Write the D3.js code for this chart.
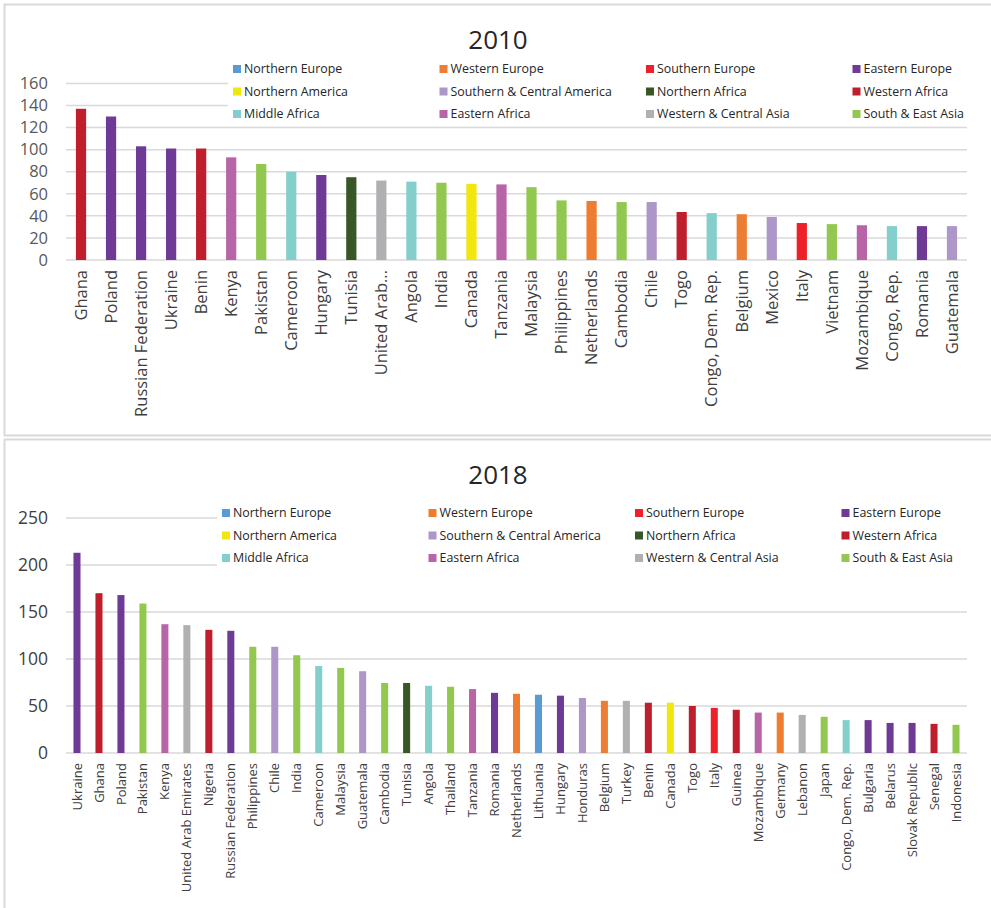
<!DOCTYPE html>
<html>
<head>
<meta charset="utf-8">
<script src="https://d3js.org/d3.v7.min.js"></script>
<style>
  body { margin: 0; background: #fff; }
  text { font-family: "Open Sans", sans-serif; }
</style>
</head>
<body>
<svg id="chart" width="991" height="908"></svg>
<script>
// regions and their colours (legend order)
var regions = ["Northern Europe", "Western Europe", "Southern Europe", "Eastern Europe",
  "Northern America", "Southern & Central America", "Northern Africa", "Western Africa",
  "Middle Africa", "Eastern Africa", "Western & Central Asia", "South & East Asia"];
var regionColors = ["#5b9bd5", "#ed7d31", "#ee2128", "#6f3996",
  "#f2e60f", "#ad96c8", "#375726", "#bf1e2d",
  "#84cfcb", "#b865a8", "#b0b0b3", "#92c850"];

// 2010
var countries2010 = ["Ghana", "Poland", "Russian Federation", "Ukraine", "Benin", "Kenya", "Pakistan",
  "Cameroon", "Hungary", "Tunisia", "United Arab...", "Angola", "India", "Canada", "Tanzania",
  "Malaysia", "Philippines", "Netherlands", "Cambodia", "Chile", "Togo", "Congo, Dem. Rep.",
  "Belgium", "Mexico", "Italy", "Vietnam", "Mozambique", "Congo, Rep.", "Romania", "Guatemala"];
var values2010 = [137, 130, 103, 101, 101, 93, 87, 80, 77, 75, 72, 71, 70, 69, 68.5,
  66, 54, 53.5, 52.5, 52.5, 43.5, 42.5, 41.5, 39, 33.5, 32.5, 31.5, 30.7, 30.7, 30.7];
var regions2010 = ["Western Africa", "Eastern Europe", "Eastern Europe", "Eastern Europe", "Western Africa",
  "Eastern Africa", "South & East Asia", "Middle Africa", "Eastern Europe", "Northern Africa",
  "Western & Central Asia", "Middle Africa", "South & East Asia", "Northern America", "Eastern Africa",
  "South & East Asia", "South & East Asia", "Western Europe", "South & East Asia", "Southern & Central America",
  "Western Africa", "Middle Africa", "Western Europe", "Southern & Central America", "Southern Europe",
  "South & East Asia", "Eastern Africa", "Middle Africa", "Eastern Europe", "Southern & Central America"];
var ticks2010 = [0, 20, 40, 60, 80, 100, 120, 140, 160];

// 2018
var countries2018 = ["Ukraine", "Ghana", "Poland", "Pakistan", "Kenya", "United Arab Emirates", "Nigeria",
  "Russian Federation", "Philippines", "Chile", "India", "Cameroon", "Malaysia", "Guatemala", "Cambodia",
  "Tunisia", "Angola", "Thailand", "Tanzania", "Romania", "Netherlands", "Lithuania", "Hungary",
  "Honduras", "Belgium", "Turkey", "Benin", "Canada", "Togo", "Italy", "Guinea", "Mozambique",
  "Germany", "Lebanon", "Japan", "Congo, Dem. Rep.", "Bulgaria", "Belarus", "Slovak Republic",
  "Senegal", "Indonesia"];
var values2018 = [213, 170, 168, 159, 137, 136, 131, 130, 113, 113, 104, 92.5, 90.5, 87, 74.5,
  74.5, 71.5, 70.5, 68, 64, 63, 62, 61, 58.5, 55.5, 55.5, 53.5, 53.5, 50, 48, 46, 43, 43,
  40.5, 38.5, 35, 35, 32, 32, 31, 30];
var regions2018 = ["Eastern Europe", "Western Africa", "Eastern Europe", "South & East Asia", "Eastern Africa",
  "Western & Central Asia", "Western Africa", "Eastern Europe", "South & East Asia", "Southern & Central America",
  "South & East Asia", "Middle Africa", "South & East Asia", "Southern & Central America", "South & East Asia",
  "Northern Africa", "Middle Africa", "South & East Asia", "Eastern Africa", "Eastern Europe",
  "Western Europe", "Northern Europe", "Eastern Europe", "Southern & Central America", "Western Europe",
  "Western & Central Asia", "Western Africa", "Northern America", "Western Africa", "Southern Europe",
  "Western Africa", "Eastern Africa", "Western Europe", "Western & Central Asia", "South & East Asia",
  "Middle Africa", "Eastern Europe", "Eastern Europe", "Eastern Europe", "Western Africa", "South & East Asia"];
var ticks2018 = [0, 50, 100, 150, 200, 250];

var svg = d3.select("#chart");
var color = d3.scaleOrdinal().domain(regions).range(regionColors);

// panel frames
svg.append("rect").attr("x", 4.5).attr("y", 4.5).attr("width", 990).attr("height", 431)
  .attr("fill", "none").attr("stroke", "#d9d9d9").attr("stroke-width", 2);
svg.append("rect").attr("x", 4.5).attr("y", 439.5).attr("width", 990).attr("height", 475)
  .attr("fill", "none").attr("stroke", "#d9d9d9").attr("stroke-width", 2);

function drawChart(o) {
  var data = o.countries.map(function(c, i) {
    return { name: c, value: o.values[i], region: o.regions[i] };
  });

  var x = d3.scaleBand().domain(o.countries).range([66, 967])
    .paddingInner(o.pad).paddingOuter(o.pad / 2);
  var y = d3.scaleLinear().domain([0, o.max]).range([o.y0, o.yTop]);

  var g = svg.append("g");

  // title
  g.append("text").attr("x", 498).attr("y", o.titleY)
    .attr("text-anchor", "middle").attr("font-size", "26px").attr("fill", "#262626")
    .text(o.title);

  // gridlines
  g.selectAll(".grid").data(o.ticks).enter().append("line")
    .attr("x1", 66).attr("x2", 967)
    .attr("y1", function(d) { return y(d); }).attr("y2", function(d) { return y(d); })
    .attr("stroke", "#d9d9d9").attr("stroke-width", 1.5);

  // y axis labels
  var yAxis = g.append("g").attr("transform", "translate(56,0)")
    .call(d3.axisLeft(y).tickValues(o.ticks).tickSize(0).tickPadding(8));
  yAxis.select(".domain").remove();
  yAxis.selectAll("text").attr("font-family", "Open Sans, sans-serif")
    .attr("font-size", o.tickSize).attr("fill", o.tickColor);

  // legend
  var lg = g.append("g");
  lg.append("rect").attr("x", o.legendX - 5).attr("y", o.legendY - 12)
    .attr("width", 967 - o.legendX + 5).attr("height", 68).attr("fill", "#fff");
  regions.forEach(function(r, i) {
    var lx = o.legendX + (i % 4) * 206.5, ly = o.legendY + Math.floor(i / 4) * 22.5;
    lg.append("rect").attr("x", lx).attr("y", ly - 4).attr("width", 8).attr("height", 8)
      .attr("fill", color(r));
    lg.append("text").attr("x", lx + 11).attr("y", ly).attr("dy", "0.35em")
      .attr("font-size", "12.4px").attr("fill", "#262626").text(r);
  });

  // bars
  g.selectAll(".bar").data(data).enter().append("rect")
    .attr("x", function(d) { return x(d.name); })
    .attr("y", function(d) { return y(d.value); })
    .attr("width", x.bandwidth())
    .attr("height", function(d) { return y(0) - y(d.value); })
    .attr("fill", function(d) { return color(d.region); });

  // x axis labels
  var xAxis = g.append("g").attr("transform", "translate(0," + o.y0 + ")")
    .call(d3.axisBottom(x).tickSize(0).tickPadding(0));
  xAxis.select(".domain").remove();
  xAxis.selectAll("text")
    .attr("font-family", "Open Sans, sans-serif")
    .attr("font-size", o.labelSize).attr("fill", "#404040")
    .attr("transform", "rotate(-90)")
    .attr("text-anchor", "end")
    .attr("x", -o.labelGap).attr("y", 0).attr("dy", "0.35em");
}

drawChart({
  title: "2010", titleY: 49,
  countries: countries2010, values: values2010, regions: regions2010,
  ticks: ticks2010, max: 160, y0: 260, yTop: 83.4, pad: 0.66,
  tickSize: "16.5px", tickColor: "#595959", labelSize: "16.5px", labelGap: 10,
  legendX: 233, legendY: 69
});

drawChart({
  title: "2018", titleY: 484,
  countries: countries2018, values: values2018, regions: regions2018,
  ticks: ticks2018, max: 250, y0: 753, yTop: 518, pad: 0.68,
  tickSize: "17.5px", tickColor: "#404040", labelSize: "13px", labelGap: 10,
  legendX: 222, legendY: 513
});
</script>
</body>
</html>
